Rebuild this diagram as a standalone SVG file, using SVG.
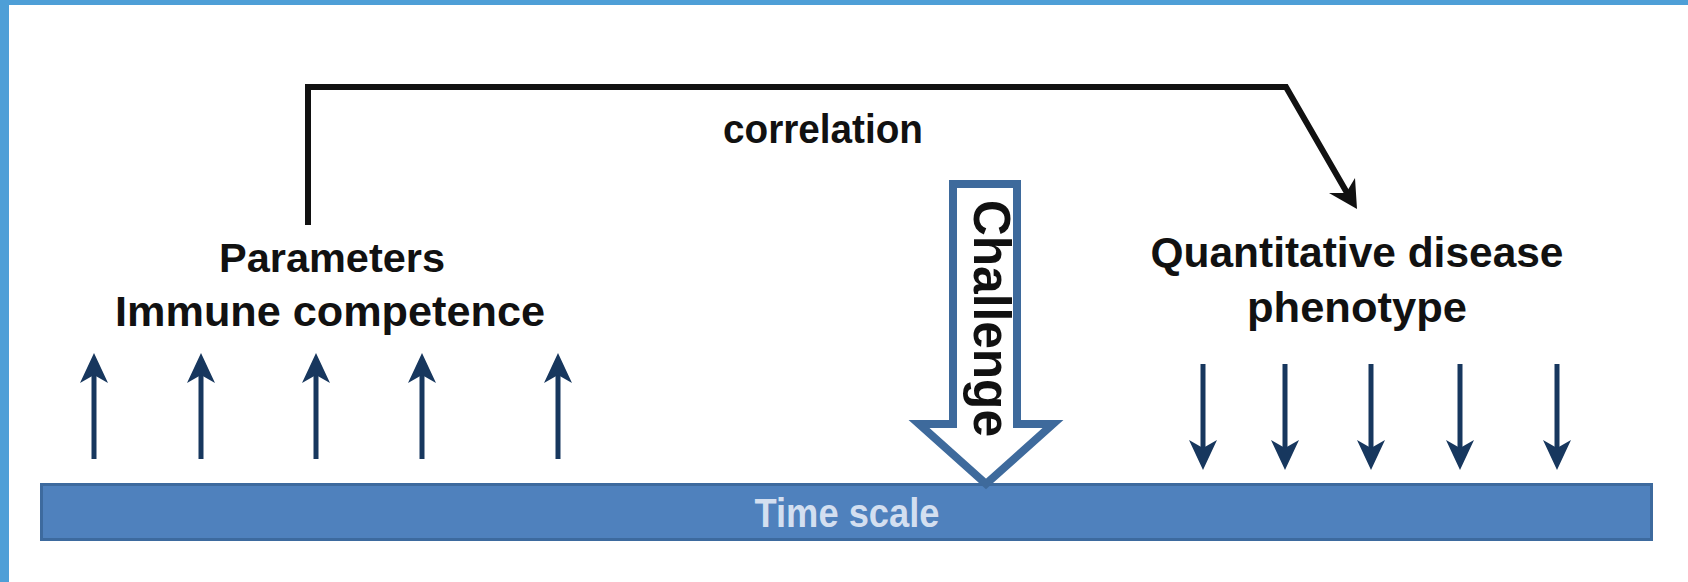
<svg xmlns="http://www.w3.org/2000/svg" width="1688" height="582" viewBox="0 0 1688 582">
<style>
.lbl{font-family:"Liberation Sans",Arial,sans-serif;font-weight:bold;fill:#111;}
.conn{fill:none;stroke:#111;stroke-width:6;stroke-linejoin:miter;}
.tick{fill:#17375E;}
.tickline{stroke:#17375E;stroke-width:5;}
</style>
<defs>
<g id="uparrow">
<line class="tickline" x1="0" y1="18" x2="0" y2="106"/>
<path class="tick" d="M0,0 L14,30 L0,22 L-14,30 Z"/>
</g>
</defs>
<rect x="0" y="0" width="1688" height="582" fill="#ffffff"/>
<rect x="0" y="0" width="1688" height="5" fill="#4E9FD7"/>
<rect x="0" y="0" width="9" height="582" fill="#4E9FD7"/>

<g id="connectors">
<path class="conn" d="M308,225 L308,87 L1286,87 L1350,198"/>
<path fill="#111" d="M1357,209 L1329,193 L1346,193 L1355,178 Z"/>
</g>

<g id="timescale">
<rect x="41.5" y="484.5" width="1610" height="55" fill="#4F81BD" stroke="#3D6A9E" stroke-width="3"/>
<text class="lbl" x="847" y="527" text-anchor="middle" font-size="40" style="fill:#D3DFF0" textLength="185" lengthAdjust="spacingAndGlyphs">Time scale</text>
</g>

<g id="parameters">
<text class="lbl" x="332" y="272" text-anchor="middle" font-size="41" textLength="226" lengthAdjust="spacingAndGlyphs">Parameters</text>
<text class="lbl" x="330" y="326" text-anchor="middle" font-size="42" textLength="430" lengthAdjust="spacingAndGlyphs">Immune competence</text>
</g>

<g id="correlation">
<text class="lbl" x="823" y="143" text-anchor="middle" font-size="40" textLength="200" lengthAdjust="spacingAndGlyphs">correlation</text>
</g>

<g id="phenotype">
<text class="lbl" x="1357" y="267" text-anchor="middle" font-size="43" textLength="413" lengthAdjust="spacingAndGlyphs">Quantitative disease</text>
<text class="lbl" x="1357" y="322" text-anchor="middle" font-size="43" textLength="220" lengthAdjust="spacingAndGlyphs">phenotype</text>
</g>

<g id="challenge">
<path d="M953,184 L1017,184 L1017,424 L1053,424 L986,484 L919,424 L953,424 Z" fill="#ffffff" stroke="#3E6A9C" stroke-width="8" stroke-linejoin="miter"/>
<text class="lbl" transform="translate(974,200) rotate(90)" x="0" y="0" font-size="52" textLength="237" lengthAdjust="spacingAndGlyphs">Challenge</text>
</g>

<g id="up-arrows">
<use href="#uparrow" transform="translate(94,353)"/>
<use href="#uparrow" transform="translate(201,353)"/>
<use href="#uparrow" transform="translate(316,353)"/>
<use href="#uparrow" transform="translate(422,353)"/>
<use href="#uparrow" transform="translate(558,353)"/>
</g>

<g id="down-arrows">
<use href="#uparrow" transform="translate(1203,470) rotate(180)"/>
<use href="#uparrow" transform="translate(1285,470) rotate(180)"/>
<use href="#uparrow" transform="translate(1371,470) rotate(180)"/>
<use href="#uparrow" transform="translate(1460,470) rotate(180)"/>
<use href="#uparrow" transform="translate(1557,470) rotate(180)"/>
</g>
</svg>
